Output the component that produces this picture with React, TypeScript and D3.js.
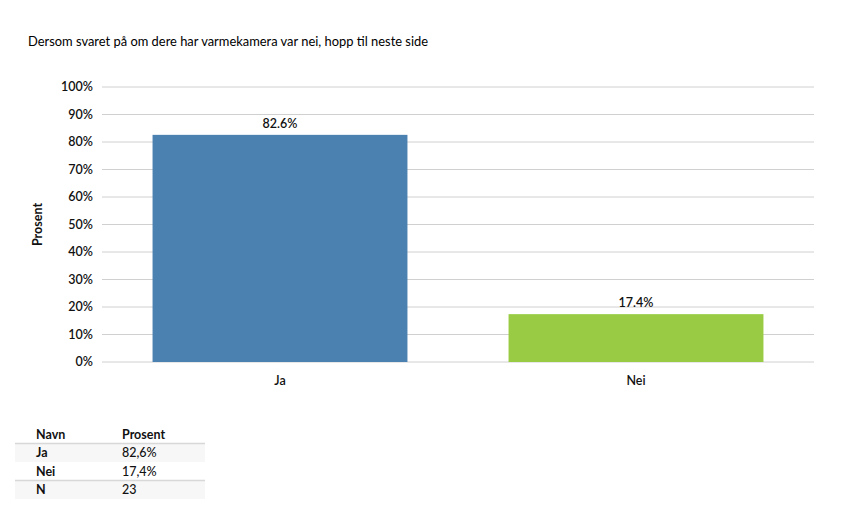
import React from "react";
import * as d3 from "d3";

const title = "Dersom svaret på om dere har varmekamera var nei, hopp til neste side";
const categories = ["Ja", "Nei"];
const values = [82.6, 17.4];
const colors = ["#4a81b0", "#99cc44"];
const yTicks = [0, 10, 20, 30, 40, 50, 60, 70, 80, 90, 100];
const tableHeader = ["Navn", "Prosent"];
const tableRows = [
  ["Ja", "82,6%"],
  ["Nei", "17,4%"],
  ["N", "23"],
];

const W = 845;
const H = 525;
const FONT = "Lato, 'Open Sans', 'Liberation Sans', sans-serif";

export default function App() {
  const plot = { left: 102, right: 814, top: 87, bottom: 362 };
  const x = d3.scaleBand<string>().domain(categories).range([plot.left, plot.right]).paddingInner(0.284).paddingOuter(0.142);
  const y = d3.scaleLinear().domain([0, 100]).range([plot.bottom, plot.top]);

  const tableTop = 425;
  const rowH = 18.5;
  const tableLeft = 15;
  const tableRight = 205;

  return (
    <svg width={W} height={H} style={{ position: "absolute", left: 0, top: 0, fontFamily: FONT }}>
      <rect x={0} y={0} width={W} height={H} fill="#ffffff" />
      <text x={28} y={46} fontSize={12.9} fill="#000">{title}</text>

      {yTicks.map((t) => (
        <g key={t}>
          <line x1={plot.left} x2={plot.right} y1={y(t)} y2={y(t)} stroke="#d0d0d0" strokeWidth={1} />
          <text x={93} y={y(t)} dy="0.35em" textAnchor="end" fontSize={12.5} fontWeight={600} fill="#111">{t}%</text>
        </g>
      ))}

      {categories.map((c, i) => (
        <g key={c}>
          <rect x={x(c)} y={y(values[i])} width={x.bandwidth()} height={y(0) - y(values[i])} fill={colors[i]} />
          <text x={(x(c) as number) + x.bandwidth() / 2} y={y(values[i]) - 7} textAnchor="middle" fontSize={12.5} fontWeight={600} fill="#111">
            {values[i].toFixed(1)}%
          </text>
          <text x={(x(c) as number) + x.bandwidth() / 2} y={385} textAnchor="middle" fontSize={12.5} fontWeight={600} fill="#111">{c}</text>
        </g>
      ))}

      <text transform={`translate(42, ${(plot.top + plot.bottom) / 2}) rotate(-90)`} textAnchor="middle" fontSize={12.5} fontWeight={700} fill="#111">Prosent</text>

      <g>
        {tableRows.map((r, i) => (
          <rect key={"bg" + i} x={tableLeft} y={tableTop + rowH * (i + 1)} width={tableRight - tableLeft} height={rowH} fill={i % 2 === 0 ? "#f7f7f7" : "#ffffff"} />
        ))}
        <line x1={tableLeft} x2={tableRight} y1={tableTop + rowH} y2={tableTop + rowH} stroke="#d8d8d8" strokeWidth={1.5} />
        <line x1={tableLeft} x2={tableRight} y1={tableTop + rowH * 3} y2={tableTop + rowH * 3} stroke="#d8d8d8" strokeWidth={1.5} />
        <text x={36} y={tableTop + rowH / 2} dy="0.35em" fontSize={12.5} fontWeight={700} fill="#111">{tableHeader[0]}</text>
        <text x={122} y={tableTop + rowH / 2} dy="0.35em" fontSize={12.5} fontWeight={700} fill="#111">{tableHeader[1]}</text>
        {tableRows.map((r, i) => (
          <g key={"r" + i}>
            <text x={36} y={tableTop + rowH * (i + 1) + rowH / 2} dy="0.35em" fontSize={12.5} fontWeight={700} fill="#111">{r[0]}</text>
            <text x={122} y={tableTop + rowH * (i + 1) + rowH / 2} dy="0.35em" fontSize={12.5} fontWeight={500} fill="#111">{r[1]}</text>
          </g>
        ))}
      </g>
    </svg>
  );
}
